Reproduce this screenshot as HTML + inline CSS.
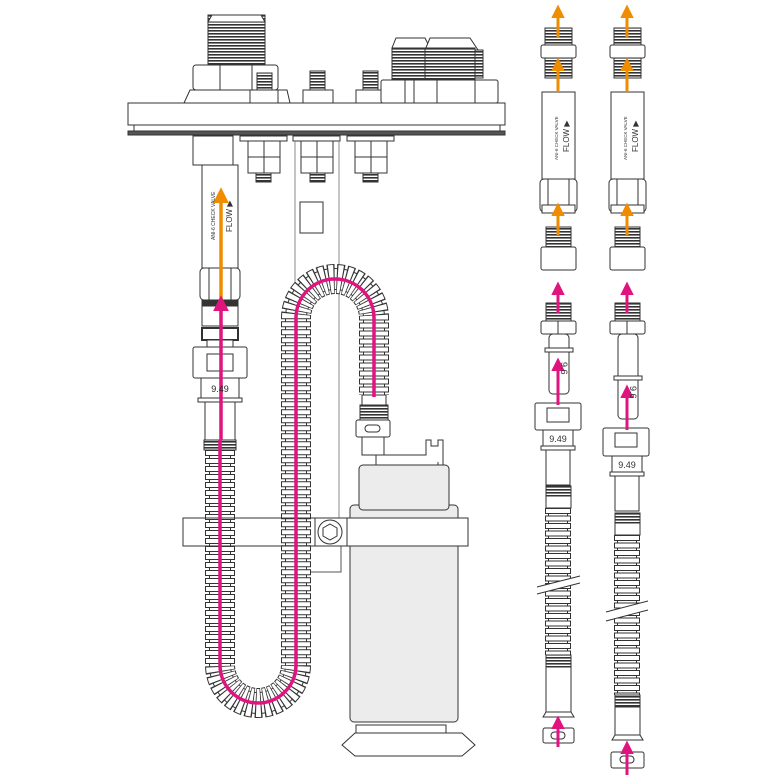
<!DOCTYPE html>
<html><head><meta charset="utf-8"><style>
html,body{margin:0;padding:0;background:#fff;}
svg{display:block;}
text{font-family:"Liberation Sans",sans-serif;}
</style></head><body>
<svg width="780" height="780" viewBox="0 0 780 780" xmlns="http://www.w3.org/2000/svg">
<defs>
<marker id="ao" markerWidth="4.5" markerHeight="4.5" refX="2" refY="2.25" orient="auto" markerUnits="strokeWidth"><path d="M0,0 L4.5,2.25 L0,4.5 z" fill="#f08c00"/></marker>
<marker id="ap" markerWidth="4.5" markerHeight="4.5" refX="2" refY="2.25" orient="auto" markerUnits="strokeWidth"><path d="M0,0 L4.5,2.25 L0,4.5 z" fill="#e0147f"/></marker>
<pattern id="thr" width="6" height="3" patternUnits="userSpaceOnUse"><rect width="6" height="3" fill="#fff"/><rect width="6" height="1.6" fill="#333"/></pattern>
<path id="U" d="M220,450 L220,665 A38,38 0 0 0 296,665 L296,318 A39,39 0 0 1 374,318 L374,395"/>
<path id="H1" d="M558,508 L558,655"/>
<path id="H2" d="M627,535 L627,695"/>
</defs>
<g fill="#fff" stroke="#333" stroke-width="1">
<rect x="208" y="15" width="57" height="50" fill="url(#thr)"/>
<path d="M212,15 L261,15 L265,22 L208,22 z"/>
<rect x="193" y="65" width="85" height="25" rx="3"/>
<line x1="220" y1="65" x2="220" y2="90"/><line x1="252" y1="65" x2="252" y2="90"/>
<path d="M190,90 L287,90 L290,103 L184,103 z"/>
<rect x="257" y="73" width="15" height="17" fill="url(#thr)"/><rect x="250" y="90" width="28" height="13"/>
<rect x="310" y="71" width="15" height="19" fill="url(#thr)"/><rect x="303" y="90" width="30" height="13"/>
<rect x="363" y="71" width="15" height="19" fill="url(#thr)"/><rect x="356" y="90" width="30" height="13"/>
<path d="M396,38 L425,38 L430,48 L392,48 z"/>
<path d="M430,38 L470,38 L478,50 L425,50 z"/>
<rect x="392" y="48" width="33" height="32" fill="url(#thr)"/>
<rect x="425" y="48" width="50" height="32" fill="url(#thr)"/>
<rect x="475" y="50" width="8" height="28" fill="url(#thr)"/>
<rect x="381" y="80" width="117" height="23" rx="2"/>
<line x1="405" y1="80" x2="405" y2="103"/><line x1="414" y1="80" x2="414" y2="103"/><line x1="437" y1="80" x2="437" y2="103"/><line x1="475" y1="80" x2="475" y2="103"/>
<rect x="128" y="103" width="377" height="22"/>
<rect x="134" y="125" width="366" height="7"/>
<rect x="128" y="131" width="377" height="4" fill="#555"/>
<rect x="193" y="136" width="40" height="29"/>
<rect x="240" y="136" width="47" height="5"/><rect x="293" y="136" width="47" height="5"/><rect x="347" y="136" width="47" height="5"/>
<rect x="248" y="141" width="32" height="16"/><rect x="248" y="157" width="32" height="16"/><line x1="264" y1="141" x2="264" y2="173"/>
<rect x="301" y="141" width="32" height="16"/><rect x="301" y="157" width="32" height="16"/><line x1="317" y1="141" x2="317" y2="173"/>
<rect x="355" y="141" width="32" height="16"/><rect x="355" y="157" width="32" height="16"/><line x1="371" y1="141" x2="371" y2="173"/>
<rect x="256" y="173" width="15" height="9" fill="url(#thr)"/><rect x="310" y="173" width="15" height="9" fill="url(#thr)"/><rect x="363" y="173" width="15" height="9" fill="url(#thr)"/>
<path d="M295,141 L295,518 M339,141 L339,518" fill="none" stroke="#888"/>
<rect x="300" y="202" width="23" height="31"/>
<path d="M292,546 L292,572 L341,572 L341,546" fill="none" stroke="#555"/>
<rect x="202" y="165" width="36" height="103"/>
<rect x="200" y="268" width="40" height="32" rx="4"/>
<line x1="209" y1="268" x2="209" y2="300"/><line x1="231" y1="268" x2="231" y2="300"/>
<rect x="202" y="300" width="36" height="6" fill="#333"/>
<rect x="202" y="306" width="36" height="20"/>
<rect x="202" y="328" width="36" height="12" stroke-width="2"/>
<rect x="207" y="340" width="26" height="7"/>
<rect x="193" y="347" width="54" height="31" rx="2"/>
<rect x="207" y="354" width="26" height="17"/>
<rect x="201" y="378" width="38" height="20"/>
<rect x="198" y="398" width="44" height="4"/>
<rect x="205" y="402" width="30" height="38"/>
<rect x="204" y="440" width="32" height="10" fill="url(#thr)"/>
<rect x="350" y="505" width="108" height="217" rx="4" fill="#ececec"/>
<rect x="359" y="465" width="90" height="45" rx="4" fill="#ececec"/>
<rect x="376" y="455" width="62" height="10"/>
<path d="M426,455 L426,440 L431,440 L431,446 L438,446 L438,440 L443,440 L443,465" />
<rect x="362" y="437" width="22" height="18"/>
<rect x="356" y="420" width="34" height="17" rx="2"/>
<rect x="365" y="425" width="15" height="7" rx="3.5"/>
<rect x="360" y="405" width="28" height="15" fill="url(#thr)"/>
<rect x="362" y="395" width="24" height="10"/>
<rect x="356" y="725" width="90" height="8"/>
<path d="M355,733 L462,733 L475,745 L462,756 L355,756 L342,745 z"/>
<rect x="183" y="518" width="285" height="28"/>
<rect x="315" y="518" width="32" height="28" fill="#fff"/>
<circle cx="330" cy="532" r="12"/><polygon points="330,524 337,528 337,536 330,540 323,536 323,528"/>
</g>
<!-- hoses -->
<g fill="none">
<use href="#U" stroke="#fff" stroke-width="30"/>
<use href="#U" stroke="#333" stroke-width="22"/>
<use href="#U" stroke="#fff" stroke-width="20"/>
<use href="#U" stroke="#333" stroke-width="30" stroke-dasharray="6 2"/>
<use href="#U" stroke="#fff" stroke-width="28" stroke-dasharray="4 4" stroke-dashoffset="-1"/>
<use href="#H1" stroke="#fff" stroke-width="26"/>
<use href="#H1" stroke="#333" stroke-width="20"/>
<use href="#H1" stroke="#fff" stroke-width="18"/>
<use href="#H1" stroke="#333" stroke-width="26" stroke-dasharray="6 1.5"/>
<use href="#H1" stroke="#fff" stroke-width="24" stroke-dasharray="4 3.5" stroke-dashoffset="-1"/>
<use href="#H2" stroke="#fff" stroke-width="26"/>
<use href="#H2" stroke="#333" stroke-width="20"/>
<use href="#H2" stroke="#fff" stroke-width="18"/>
<use href="#H2" stroke="#333" stroke-width="26" stroke-dasharray="6 1.5"/>
<use href="#H2" stroke="#fff" stroke-width="24" stroke-dasharray="4 3.5" stroke-dashoffset="-1"/>
</g>
<rect x="183" y="518" width="285" height="28" fill="none" stroke="#333"/>
<path d="M221,300 L221,196" stroke="#f08c00" stroke-width="3.5" fill="none" marker-end="url(#ao)"/>
<path d="M221,440 L221,304" stroke="#e0147f" stroke-width="3.5" fill="none" marker-end="url(#ap)"/>
<path d="M220,440 L220,665 A38,38 0 0 0 296,665 L296,318 A39,39 0 0 1 374,318 L374,397" fill="none" stroke="#e0147f" stroke-width="3.5"/>
<text transform="translate(215,240) rotate(-90)" font-size="5" fill="#333">ANI-6 CHECK VALVE</text>
<text transform="translate(232,232) rotate(-90)" font-size="8" fill="#333">FLOW ▶</text>
<text x="220" y="392" font-size="9" text-anchor="middle" fill="#222">9.49</text>
<g fill="#fff" stroke="#333" stroke-width="1">
<g id="c1">
<rect x="545" y="28" width="27" height="17" fill="url(#thr)"/>
<rect x="541" y="45" width="35" height="13" rx="2"/>
<rect x="545" y="58" width="27" height="20" fill="url(#thr)"/>
<rect x="542" y="92" width="33" height="87"/>
<rect x="540" y="179" width="37" height="33" rx="4"/>
<line x1="548" y1="179" x2="548" y2="212"/><line x1="569" y1="179" x2="569" y2="212"/>
<rect x="542" y="205" width="33" height="8"/>
<rect x="546" y="227" width="25" height="20" fill="url(#thr)"/>
<rect x="541" y="247" width="35" height="23" rx="2"/>
</g>
<use href="#c1" x="69"/>
<rect x="546" y="303" width="25" height="18" fill="url(#thr)"/>
<rect x="541" y="321" width="35" height="13" rx="2"/><line x1="558" y1="321" x2="558" y2="334"/>
<rect x="549" y="334" width="20" height="60" rx="4"/>
<rect x="545" y="348" width="28" height="4"/>
<rect x="535" y="403" width="46" height="27" rx="2"/><rect x="547" y="408" width="22" height="14"/>
<rect x="543" y="430" width="30" height="16"/>
<rect x="541" y="446" width="34" height="4"/>
<rect x="546" y="450" width="24" height="35"/>
<rect x="546" y="486" width="25" height="10" fill="url(#thr)"/>
<rect x="546" y="496" width="25" height="12"/>
<rect x="546" y="655" width="25" height="12" fill="url(#thr)"/>
<rect x="546" y="667" width="25" height="45"/>
<path d="M546,712 L571,712 L574,717 L543,717 z"/>
<rect x="543" y="728" width="31" height="15" rx="2"/><rect x="551" y="732" width="14" height="7" rx="3.5"/>
<rect x="615" y="303" width="25" height="18" fill="url(#thr)"/>
<rect x="610" y="321" width="35" height="13" rx="2"/><line x1="627" y1="321" x2="627" y2="334"/>
<rect x="618" y="334" width="20" height="85" rx="4"/>
<rect x="614" y="376" width="28" height="4"/>
<rect x="603" y="428" width="46" height="28" rx="2"/><rect x="615" y="433" width="22" height="14"/>
<rect x="612" y="456" width="30" height="16"/>
<rect x="610" y="472" width="34" height="4"/>
<rect x="615" y="476" width="24" height="35"/>
<rect x="615" y="513" width="25" height="10" fill="url(#thr)"/>
<rect x="615" y="523" width="25" height="12"/>
<rect x="615" y="695" width="25" height="12" fill="url(#thr)"/>
<rect x="615" y="707" width="25" height="28"/>
<path d="M615,735 L640,735 L643,740 L612,740 z"/>
<rect x="611" y="752" width="33" height="16" rx="2"/><rect x="620" y="756" width="14" height="7" rx="3.5"/>
</g>
<g stroke="#333" stroke-width="1">
<polygon points="537,587 580,576 580,583 537,594" fill="#fff" stroke="none"/>
<line x1="537" y1="587" x2="580" y2="576"/><line x1="537" y1="594" x2="580" y2="583"/>
<polygon points="606,612 648,601 648,610 606,621" fill="#fff" stroke="none"/>
<line x1="606" y1="612" x2="648" y2="601"/><line x1="606" y1="621" x2="648" y2="610"/>
</g>
<g stroke-width="3" fill="none">
<path d="M558,38 L558,12" stroke="#f08c00" marker-end="url(#ao)"/>
<path d="M558,92 L558,65" stroke="#f08c00" marker-end="url(#ao)"/>
<path d="M558,235 L558,210" stroke="#f08c00" marker-end="url(#ao)"/>
<path d="M627,38 L627,12" stroke="#f08c00" marker-end="url(#ao)"/>
<path d="M627,92 L627,65" stroke="#f08c00" marker-end="url(#ao)"/>
<path d="M627,235 L627,210" stroke="#f08c00" marker-end="url(#ao)"/>
<path d="M558,313 L558,289" stroke="#e0147f" marker-end="url(#ap)"/>
<path d="M627,313 L627,289" stroke="#e0147f" marker-end="url(#ap)"/>
<path d="M558,405 L558,365" stroke="#e0147f" marker-end="url(#ap)"/>
<path d="M627,430 L627,392" stroke="#e0147f" marker-end="url(#ap)"/>
<path d="M558,747 L558,723" stroke="#e0147f" marker-end="url(#ap)"/>
<path d="M627,775 L627,748" stroke="#e0147f" marker-end="url(#ap)"/>
</g>
<g fill="#333">
<text transform="translate(558,160) rotate(-90)" font-size="4.5">ANI-6 CHECK VALVE</text>
<text transform="translate(569,152) rotate(-90)" font-size="8">FLOW ▶</text>
<text transform="translate(627,160) rotate(-90)" font-size="4.5">ANI-6 CHECK VALVE</text>
<text transform="translate(638,152) rotate(-90)" font-size="8">FLOW ▶</text>
<text transform="translate(561,362) rotate(90)" font-size="9">9.6</text>
<text transform="translate(630,386) rotate(90)" font-size="9">9.6</text>
<text x="558" y="442" font-size="9" text-anchor="middle">9.49</text>
<text x="627" y="468" font-size="9" text-anchor="middle">9.49</text>
</g>
</svg>
</body></html>
